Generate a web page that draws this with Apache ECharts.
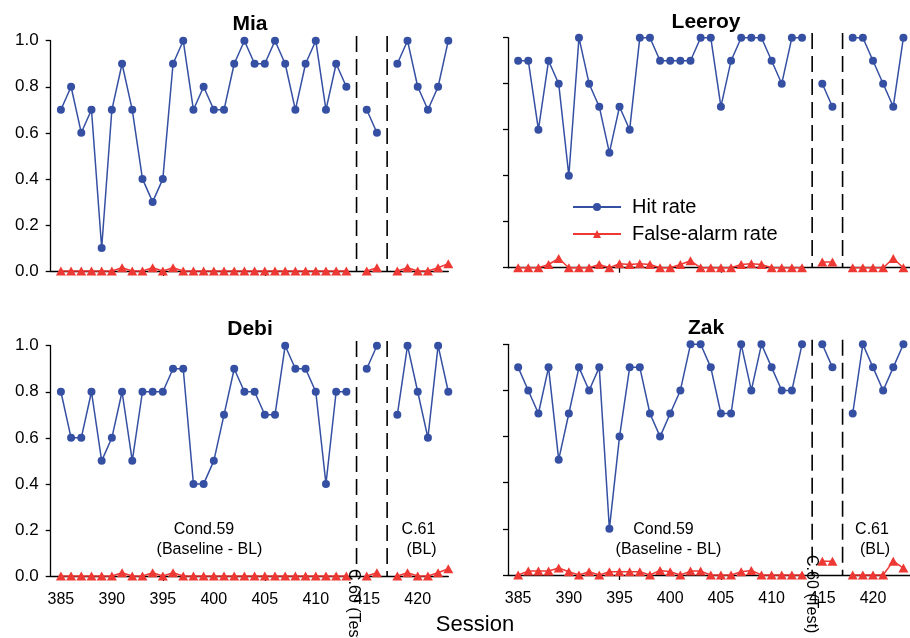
<!DOCTYPE html>
<html>
<head>
<meta charset="utf-8">
<script src="https://cdn.jsdelivr.net/npm/echarts@6/dist/echarts.min.js"></script>
<style>
  html, body { margin: 0; padding: 0; background: #fff; }
  #chart { width: 910px; height: 638px; }
</style>
</head>
<body>
<div id="chart"></div>
<script>
// ---- data ----
const sessions = [385,386,387,388,389,390,391,392,393,394,395,396,397,398,399,400,401,402,403,404,
                  405,406,407,408,409,410,411,412,413,414,415,416,417,418,419,420,421,422,423];
const xTickLabels = [385,390,395,400,405,410,415,420];
const xTickMarks = [395,405];
const yTicks = [0,0.2,0.4,0.6,0.8,1.0];
const phaseLines = [414,417];
const panelNames = ['Mia','Leeroy','Debi','Zak'];
const seriesNames = ['Hit rate','False-alarm rate'];

const miaHit = [0.7,0.8,0.6,0.7,0.1,0.7,0.9,0.7,0.4,0.3,0.4,0.9,1.0,0.7,0.8,0.7,0.7,0.9,1.0,0.9,0.9,1.0,0.9,0.7,0.9,1.0,0.7,0.9,0.8,
                null,0.7,0.6,null,0.9,1.0,0.8,0.7,0.8,1.0];
const miaFA = [0,0,0,0,0,0,0.014,0,0,0.014,0,0.014,0,0,0,0,0,0,0,0,0,0,0,0,0,0,0,0,0,
               null,0,0.014,null,0,0.014,0,0,0.014,0.032];
const leeroyHit = [0.9,0.9,0.6,0.9,0.8,0.4,1.0,0.8,0.7,0.5,0.7,0.6,1.0,1.0,0.9,0.9,0.9,0.9,1.0,1.0,0.7,0.9,1.0,1.0,1.0,0.9,0.8,1.0,1.0,
                   null,0.8,0.7,null,1.0,1.0,0.9,0.8,0.7,1.0];
const leeroyFA = [0,0,0,0.014,0.04,0,0,0,0.014,0,0.017,0.014,0.017,0.014,0,0,0.014,0.03,0,0,0,0,0.014,0.017,0.014,0,0,0,0,
                  null,0.025,0.025,null,0,0,0,0,0.04,0];
const debiHit = [0.8,0.6,0.6,0.8,0.5,0.6,0.8,0.5,0.8,0.8,0.8,0.9,0.9,0.4,0.4,0.5,0.7,0.9,0.8,0.8,0.7,0.7,1.0,0.9,0.9,0.8,0.4,0.8,0.8,
                 null,0.9,1.0,null,0.7,1.0,0.8,0.6,1.0,0.8];
const debiFA = [0,0,0,0,0,0,0.014,0,0,0.014,0,0.014,0,0,0,0,0,0,0,0,0,0,0,0,0,0,0,0,0,
                null,0,0.014,null,0,0.014,0,0,0.014,0.032];
const zakHit = [0.9,0.8,0.7,0.9,0.5,0.7,0.9,0.8,0.9,0.2,0.6,0.9,0.9,0.7,0.6,0.7,0.8,1.0,1.0,0.9,0.7,0.7,1.0,0.8,1.0,0.9,0.8,0.8,1.0,
                null,1.0,0.9,null,0.7,1.0,0.9,0.8,0.9,1.0];
const zakFA = [0,0.017,0.017,0.017,0.03,0.014,0,0.014,0,0.014,0.014,0.014,0.014,0,0.02,0.014,0,0.017,0.017,0,0,0,0.014,0.02,0,0,0,0,0,
               null,0.06,0.06,null,0,0,0,0,0.06,0.03];

// ---- styling ----
const FONT = '"Liberation Sans", Arial, sans-serif';
const BLUE = '#3550a3';
const RED = '#ee3833';

const panels = [
  { name: panelNames[0], hit: miaHit, fa: miaFA, grid: { left: 50.7, top: 40.7, width: 397.6, height: 230.3 }, xmax: 423, yLabels: true,  xLabels: false, titleX: 250, titleY: 24.5 },
  { name: panelNames[1], hit: leeroyHit, fa: leeroyFA, grid: { left: 508, top: 37.7, width: 402, height: 230 }, xmax: 423.65, yLabels: false, xLabels: false, titleX: 706, titleY: 22.5 },
  { name: panelNames[2], hit: debiHit, fa: debiFA, grid: { left: 50.7, top: 345.7, width: 397.6, height: 230.3 }, xmax: 423, yLabels: true,  xLabels: true, titleX: 250, titleY: 329.5 },
  { name: panelNames[3], hit: zakHit, fa: zakFA, grid: { left: 508, top: 344.3, width: 402, height: 230.7 }, xmax: 423.65, yLabels: false, xLabels: true, titleX: 706, titleY: 328 }
];

function pairs(vals) {
  return sessions.map((s, i) => [s, vals[i] === null ? '-' : vals[i]]);
}

const grids = [], xAxes = [], yAxes = [], series = [], graphics = [];
panels.forEach((p, i) => {
  grids.push(Object.assign({ containLabel: false, outerBoundsMode: 'none' }, p.grid));
  xAxes.push({
    gridIndex: i, type: 'value', min: 384, max: p.xmax,
    axisLine: { show: true, onZero: false, lineStyle: { color: '#000', width: 1.3 } },
    splitLine: { show: false },
    axisTick: { show: true, customValues: xTickMarks, length: 5, lineStyle: { color: '#000', width: 1.3 } },
    axisLabel: { show: p.xLabels, customValues: xTickLabels, fontSize: 16, color: '#000', fontFamily: FONT, margin: 16 }
  });
  yAxes.push({
    gridIndex: i, type: 'value', min: 0, max: 1, interval: 0.2,
    axisLine: { show: true, lineStyle: { color: '#000', width: 1.3 } },
    splitLine: { show: false },
    axisTick: { show: true, length: 5, lineStyle: { color: '#000', width: 1.3 } },
    axisLabel: { show: p.yLabels, customValues: yTicks, formatter: v => v.toFixed(1), fontSize: 17, color: '#000', fontFamily: FONT, margin: 12 }
  });
  // phase-change dashed lines
  phaseLines.forEach(v => {
    series.push({
      name: 'phase', type: 'line', xAxisIndex: i, yAxisIndex: i,
      data: [[v, 1.02], [v, 0]], clip: false, silent: true,
      symbol: 'none', lineStyle: { color: '#000', type: [16, 7], width: 1.6 }, z: 2
    });
  });
  series.push({
    name: seriesNames[0], type: 'line', xAxisIndex: i, yAxisIndex: i,
    data: pairs(p.hit), connectNulls: false, clip: false,
    symbol: 'circle', symbolSize: 8,
    lineStyle: { color: BLUE, width: 1.5 }, itemStyle: { color: BLUE },
    z: 3
  });
  series.push({
    name: seriesNames[1], type: 'line', xAxisIndex: i, yAxisIndex: i,
    data: pairs(p.fa), connectNulls: false, clip: false,
    symbol: 'triangle', symbolSize: [10, 9],
    lineStyle: { color: RED, width: 1.5 }, itemStyle: { color: RED },
    z: 4
  });
  graphics.push({
    type: 'text', x: p.titleX, y: p.titleY,
    style: { text: p.name, font: 'bold 21px ' + FONT, fill: '#000', textAlign: 'center', textVerticalAlign: 'middle' }
  });
});

function txt(t, x, y, size, extra) {
  return Object.assign({
    type: 'text', x: x, y: y,
    style: { text: t, font: size + 'px ' + FONT, fill: '#000', textAlign: 'center', textVerticalAlign: 'middle' }
  }, extra || {});
}

graphics.push(txt('Session', 475, 625, 22));
graphics.push(txt('Cond.59', 204, 529.5, 16));
graphics.push(txt('(Baseline - BL)', 209.5, 550, 16));
graphics.push(txt('C.61', 418.5, 529.5, 16));
graphics.push(txt('(BL)', 421.5, 550, 16));
graphics.push(txt('Cond.59', 663.5, 529.5, 16));
graphics.push(txt('(Baseline - BL)', 668.5, 550, 16));
graphics.push(txt('C.61', 872, 529.5, 16));
graphics.push(txt('(BL)', 875, 550, 16));
graphics.push({
  type: 'text', x: 353.5, y: 569, rotation: -Math.PI / 2, z: 10,
  style: { text: 'C.60 (Test)', font: '16px ' + FONT, fill: '#000', textAlign: 'left', textVerticalAlign: 'middle' }
});
graphics.push({
  type: 'text', x: 811, y: 555, rotation: -Math.PI / 2, z: 10,
  style: { text: 'C.60 (Test)', font: '16px ' + FONT, fill: '#000', textAlign: 'left', textVerticalAlign: 'middle' }
});

const chart = echarts.init(document.getElementById('chart'), null, { renderer: 'canvas' });
chart.setOption({
  animation: false,
  backgroundColor: '#fff',
  grid: grids,
  xAxis: xAxes,
  yAxis: yAxes,
  legend: {
    data: seriesNames, orient: 'vertical', left: 572, top: 197, padding: 0,
    itemWidth: 48, itemHeight: 10, itemGap: 7,
    textStyle: { fontSize: 20, fontFamily: FONT, color: '#000', lineHeight: 20, padding: [0, 0, 0, 6] }
  },
  series: series,
  graphic: graphics
});
</script>
</body>
</html>
